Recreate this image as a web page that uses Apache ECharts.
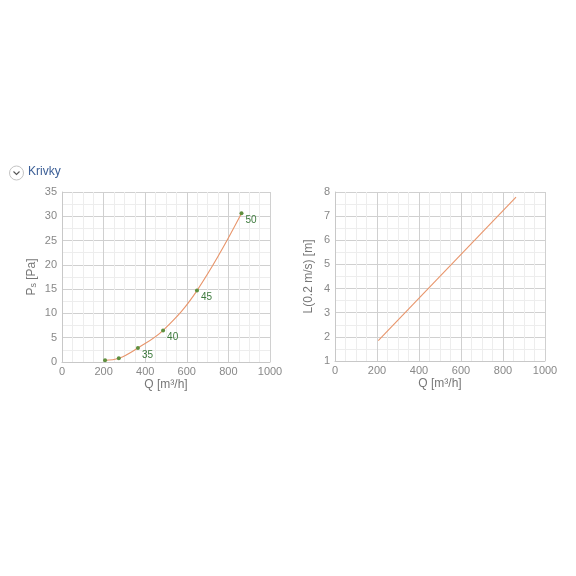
<!DOCTYPE html>
<html>
<head>
<meta charset="utf-8">
<script src="https://cdn.jsdelivr.net/npm/echarts@6/dist/echarts.min.js"></script>
<style>html,body{margin:0;padding:0;background:#fff}#c{width:576px;height:576px}</style>
</head>
<body>
<div id="c"></div>
<script>
// Left chart: pressure curve
const qPoints = [207, 273, 365, 486, 649, 863];
const psValues = [0.35, 0.75, 2.9, 6.5, 14.7, 30.6];
const pointLabels = ['', '', '35', '40', '45', '50'];
// Right chart: throw length
const qLine = [206, 862];
const lValues = [1.84, 7.79];
// Axis ranges / ticks
const xTicks = [0, 200, 400, 600, 800, 1000];
const psTicks = [0, 5, 10, 15, 20, 25, 30, 35];
const lTicks = [1, 2, 3, 4, 5, 6, 7, 8];

const chart = echarts.init(document.getElementById('c'));
const font = 'Arial, "Liberation Sans", sans-serif';
const lineColor = '#e8956b';

function xAxisDef(gridIndex) {
  return {
    type: 'value', gridIndex: gridIndex,
    min: xTicks[0], max: xTicks[xTicks.length - 1], interval: 200,
    name: 'Q [m³/h]', nameLocation: 'middle', nameGap: 17,
    nameTextStyle: { color: '#777', fontSize: 12, fontFamily: font },
    axisLine: { show: true, lineStyle: { color: '#c8c8c8' } },
    axisTick: { show: false },
    axisLabel: { color: '#888', fontSize: 11, fontFamily: font, margin: 4, formatter: v => String(v) },
    splitLine: { show: true, lineStyle: { color: '#d0d0d0', width: 1 } },
    minorTick: { show: false, splitNumber: 4 },
    minorSplitLine: { show: true, lineStyle: { color: '#ededed', width: 1 } }
  };
}
function yAxisDef(gridIndex, ticks, name, gap) {
  return {
    type: 'value', gridIndex: gridIndex,
    min: ticks[0], max: ticks[ticks.length - 1], interval: ticks[1] - ticks[0],
    name: name, nameLocation: 'middle', nameGap: gap, nameRotate: 90,
    nameTextStyle: { color: '#777', fontSize: 12, fontFamily: font,
      rich: { s: { fontSize: 9, color: '#777', fontFamily: font, verticalAlign: 'bottom' } } },
    axisLine: { show: true, lineStyle: { color: '#c8c8c8' } },
    axisTick: { show: false },
    axisLabel: { color: '#888', fontSize: 11, fontFamily: font, margin: 5, formatter: v => String(v) },
    splitLine: { show: true, lineStyle: { color: '#d0d0d0', width: 1 } },
    minorTick: { show: false, splitNumber: 2 },
    minorSplitLine: { show: true, lineStyle: { color: '#ededed', width: 1 } }
  };
}

chart.setOption({
  animation: false,
  backgroundColor: '#fff',
  grid: [
    { left: 62, right: 306, top: 192, bottom: 214 },
    { left: 335, right: 31, top: 192, bottom: 215 }
  ],
  xAxis: [xAxisDef(0), xAxisDef(1)],
  yAxis: [
    yAxisDef(0, psTicks, 'P{s|s} [Pa]', 24),
    yAxisDef(1, lTicks, 'L(0.2 m/s) [m]', 20)
  ],
  graphic: [
    { type: 'circle', shape: { cx: 16.5, cy: 173, r: 7 }, style: { fill: '#fff', stroke: '#c4c4c4', lineWidth: 1 } },
    { type: 'polyline', shape: { points: [[13.5, 171.5], [16.5, 174.5], [19.5, 171.5]] }, style: { fill: null, stroke: '#555', lineWidth: 1.1 } },
    { type: 'text', left: 28, top: 166, style: { text: 'Krivky', fill: '#3b5e96', fontSize: 12, fontFamily: font } }
  ],
  series: [
    {
      type: 'line', xAxisIndex: 0, yAxisIndex: 0, smooth: 0.4,
      data: qPoints.map((q, i) => ({ value: [q, psValues[i]], label: { show: pointLabels[i] !== '', formatter: pointLabels[i] } })),
      symbol: 'circle', symbolSize: 4,
      itemStyle: { color: '#5f8f3e' },
      lineStyle: { color: lineColor, width: 1.1 },
      label: { position: 'right', distance: 2, offset: [0, 7], color: '#3d7a3d', fontSize: 10, fontFamily: font }
    },
    {
      type: 'line', xAxisIndex: 1, yAxisIndex: 1,
      data: qLine.map((q, i) => [q, lValues[i]]),
      symbol: 'none',
      lineStyle: { color: lineColor, width: 1.1 }
    }
  ]
});
</script>
</body>
</html>
